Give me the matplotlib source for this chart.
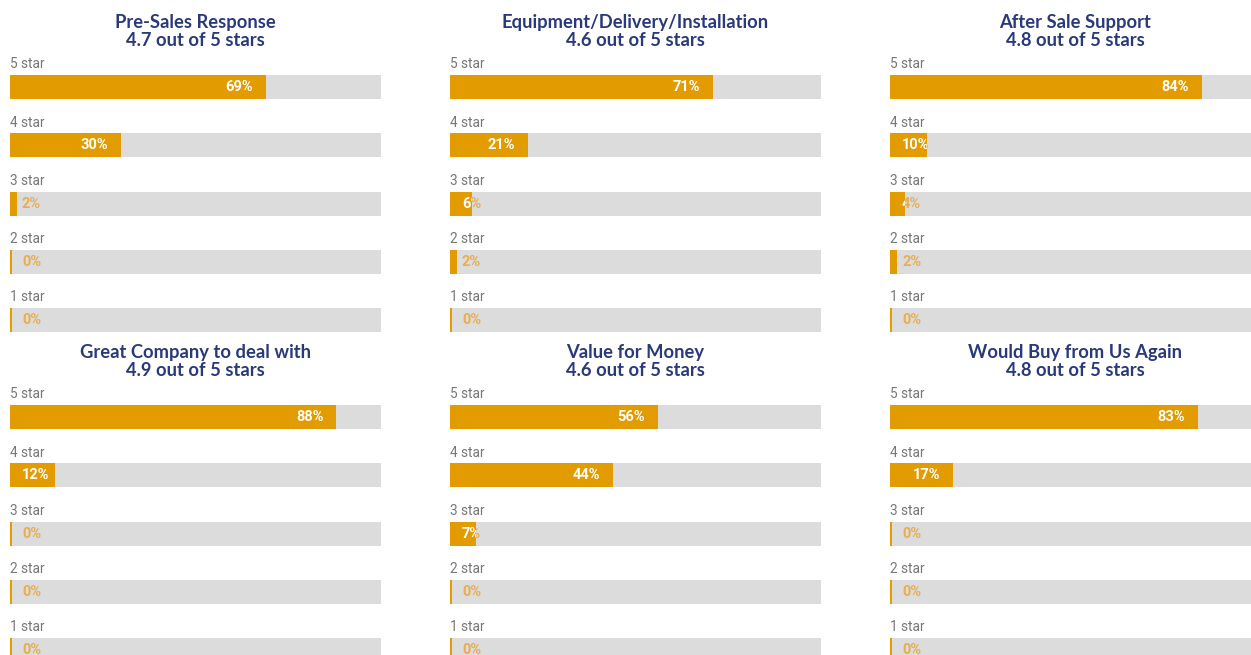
import matplotlib
matplotlib.use("Agg")
import matplotlib.pyplot as plt
from matplotlib.transforms import ScaledTranslation, Bbox, TransformedBbox

# ---------------- data ----------------
titles = ["Pre-Sales Response", "Equipment/Delivery/Installation", "After Sale Support",
          "Great Company to deal with", "Value for Money", "Would Buy from Us Again"]
ratings = ["4.7", "4.6", "4.8", "4.9", "4.6", "4.8"]
star_labels = ["5 star", "4 star", "3 star", "2 star", "1 star"]
pre_sales = [69, 30, 2, 0, 0]
equipment = [71, 21, 6, 2, 0]
after_sale = [84, 10, 4, 2, 0]
great_company = [88, 12, 0, 0, 0]
value_money = [56, 44, 7, 0, 0]
buy_again = [83, 17, 0, 0, 0]
series = [pre_sales, equipment, after_sale, great_company, value_money, buy_again]

# ---------------- style ----------------
W, H, DPI = 1251, 655, 100
ORANGE = "#e29b00"
GRAY = "#dcdcdc"
NAVY = "#293a7b"
LABEL_GRAY = "#777777"
TXT_ORANGE = "#e8ad52"

fig = plt.figure(figsize=(W / DPI, H / DPI), dpi=DPI)
fig.patch.set_facecolor("white")
renderer = fig.canvas.get_renderer()

col_x = [10, 450, 890]
row_top = [40.7, 370.7]
bar_w_px = 371
unit = 58.3

for k, (title, rating, vals) in enumerate(zip(titles, ratings, series)):
    r, c = divmod(k, 3)
    x0 = col_x[c]
    top = row_top[r]
    ax = fig.add_axes([x0 / W, 1 - (top + 5 * unit) / H, bar_w_px / W, 5 * unit / H])
    ax.set_xlim(0, 100)
    ax.set_ylim(5, 0)
    ax.axis("off")

    ys = [i + 0.794 for i in range(5)]
    h = 24 / unit
    ax.barh(ys, [100] * 5, height=h, color=GRAY, linewidth=0)
    min_w = 2 / bar_w_px * 100
    ax.barh(ys, [max(v, min_w) for v in vals], height=h, color=ORANGE, linewidth=0)

    for i, (lab, v) in enumerate(zip(star_labels, vals)):
        ax.text(0, i + 0.473, lab, ha="left", va="baseline", fontsize=9.8,
                family=["Roboto", "DejaVu Sans"], color=LABEL_GRAY)
        txt = f"{v}%"
        bw = max(v, min_w)
        # position: right-aligned 13px inside bar end, min 12px from bar start
        off_r = ScaledTranslation(-13 / DPI, 0, fig.dpi_scale_trans)
        probe = ax.text(bw, ys[i], txt, ha="right", va="center", fontsize=10.5,
                        fontweight="bold", family=["Roboto", "DejaVu Sans"],
                        transform=ax.transData + off_r)
        ext = probe.get_window_extent(renderer)
        start_px = ax.transData.transform((0, 0))[0]
        probe.remove()
        if ext.x0 < start_px + 12:
            xpos, ha, tr = 0, "left", ax.transData + ScaledTranslation(12 / DPI, 0, fig.dpi_scale_trans)
        else:
            xpos, ha, tr = bw, "right", ax.transData + off_r
        y0, y1 = ys[i] - h / 2, ys[i] + h / 2
        for color, (cx0, cx1) in ((("white"), (0, bw)), (TXT_ORANGE, (bw, 100))):
            t = ax.text(xpos, ys[i], txt, ha=ha, va="center", fontsize=10.5,
                        fontweight="bold", family=["Roboto", "DejaVu Sans"],
                        color=color, transform=tr, clip_on=True)
            t.set_clip_path(None)
            t.set_clip_box(TransformedBbox(Bbox([[cx0, min(y0, y1)], [cx1, max(y0, y1)]]),
                                           ax.transData))

    ax.text(50, -0.218, title, ha="center", va="baseline", fontsize=13.2,
            fontweight="bold", family=["Lato", "DejaVu Sans"], color=NAVY, clip_on=False)
    ax.text(50, 0.086, f"{rating} out of 5 stars", ha="center", va="baseline", fontsize=13.2,
            fontweight="bold", family=["Lato", "DejaVu Sans"], color=NAVY, clip_on=False)

fig.savefig("out.png", dpi=DPI, facecolor="white")
